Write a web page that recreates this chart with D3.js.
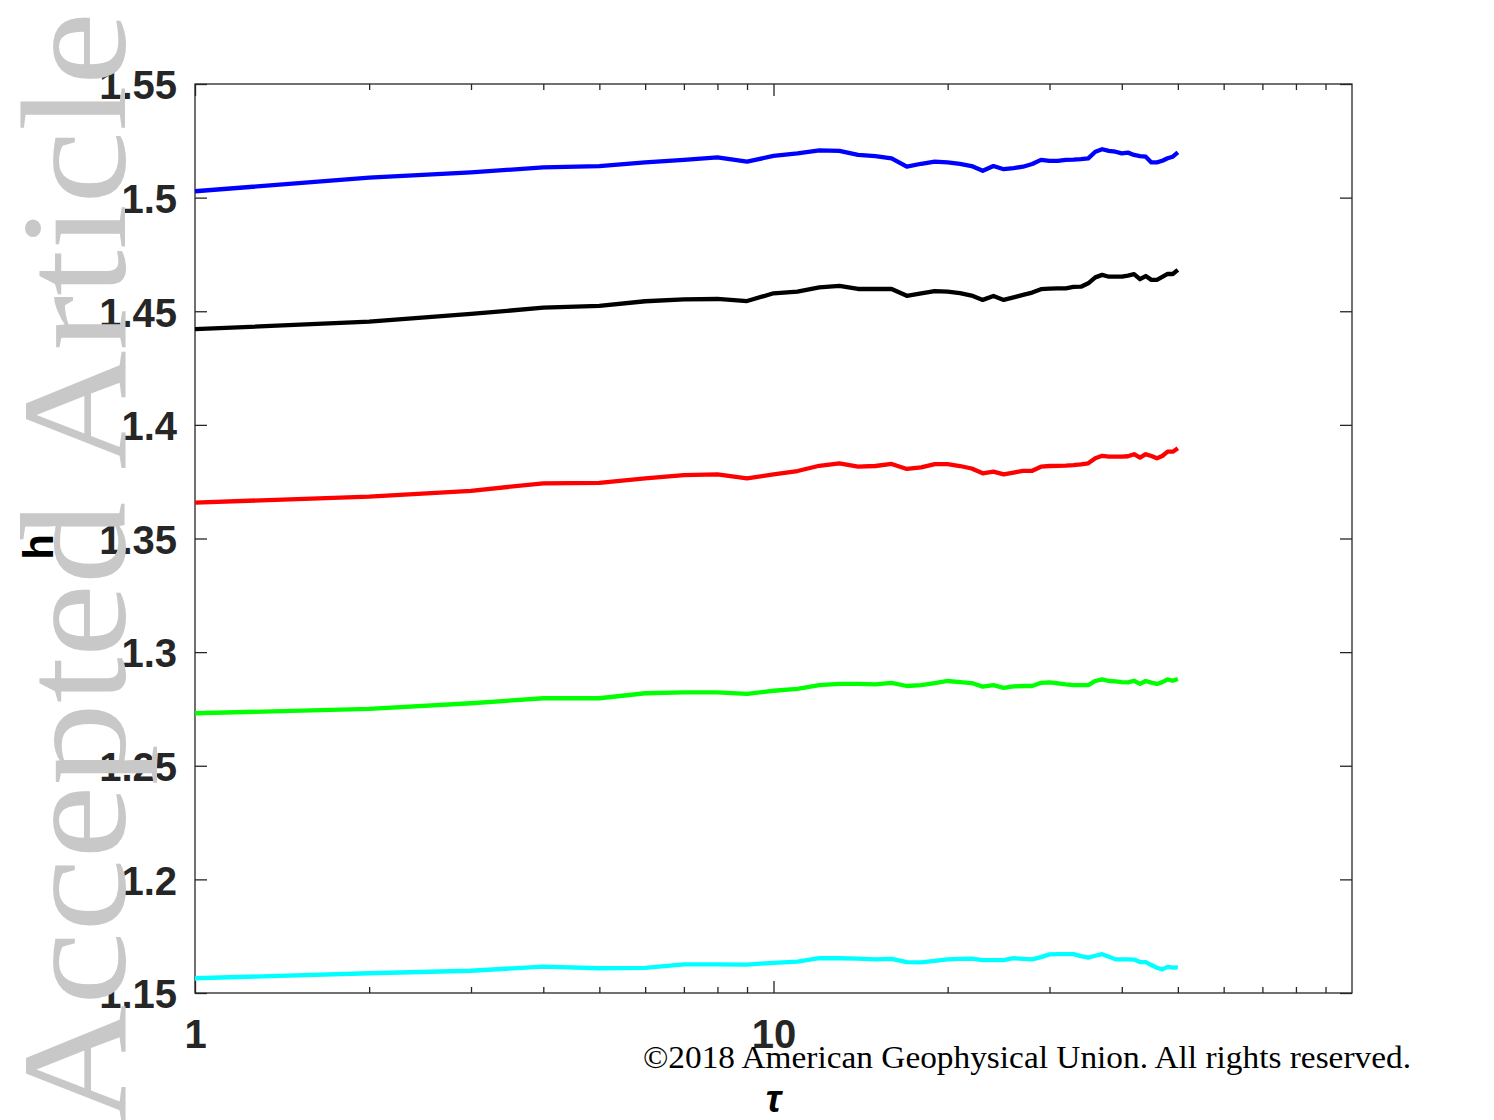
<!DOCTYPE html>
<html>
<head>
<meta charset="utf-8">
<script src="https://cdn.jsdelivr.net/npm/d3@7"></script>
<style>
  html, body { margin: 0; padding: 0; background: #ffffff; }
  svg { display: block; }
</style>
</head>
<body>
<svg id="chart" width="1494" height="1120"></svg>
<script>
// Time scale tau (sample points along the log axis)
const tau = [1,2,3,4,5,6,7,8,9,10,11,12,13,14,15,16,17,18,19,20,
             21,22,23,24,25,26,27,28,29,30,31,32,33,34,35,36,37,38,39,40,
             41,42,43,44,45,46,47,48,49,50];

// h(tau) for each curve
const hBlue = [1.5028,1.5088,1.5111,1.5133,1.5139,1.5155,1.5166,1.5177,1.5158,1.5184,
               1.5195,1.5208,1.5206,1.5188,1.5183,1.5173,1.5136,1.5149,1.5158,1.5155,
               1.5148,1.5139,1.5118,1.5139,1.5125,1.5130,1.5136,1.5148,1.5166,1.5162,
               1.5162,1.5166,1.5167,1.5169,1.5173,1.5202,1.5213,1.5206,1.5202,1.5195,
               1.5198,1.5188,1.5183,1.5180,1.5155,1.5155,1.5162,1.5173,1.5180,1.5199];
const hBlack = [1.4421,1.4454,1.4488,1.4516,1.4524,1.4544,1.4552,1.4554,1.4545,1.4579,
                1.4586,1.4605,1.4612,1.4598,1.4598,1.4598,1.4568,1.4579,1.4589,1.4586,
                1.4580,1.4569,1.4550,1.4567,1.4550,1.4561,1.4572,1.4582,1.4597,1.4600,
                1.4601,1.4601,1.4607,1.4608,1.4623,1.4649,1.4660,1.4652,1.4652,1.4652,
                1.4657,1.4663,1.4641,1.4655,1.4638,1.4638,1.4651,1.4664,1.4664,1.4682];
const hRed = [1.3658,1.3684,1.3710,1.3743,1.3745,1.3765,1.3779,1.3782,1.3765,1.3782,
              1.3797,1.3820,1.3831,1.3816,1.3819,1.3828,1.3806,1.3813,1.3827,1.3827,
              1.3819,1.3808,1.3787,1.3794,1.3782,1.3790,1.3798,1.3798,1.3816,1.3819,
              1.3820,1.3821,1.3823,1.3826,1.3831,1.3853,1.3864,1.3860,1.3860,1.3860,
              1.3862,1.3871,1.3856,1.3871,1.3863,1.3853,1.3863,1.3882,1.3882,1.3897];
const hGreen = [1.2731,1.2750,1.2775,1.2797,1.2797,1.2819,1.2823,1.2823,1.2816,1.2830,
                1.2838,1.2855,1.2860,1.2860,1.2858,1.2865,1.2851,1.2855,1.2864,1.2873,
                1.2868,1.2864,1.2848,1.2855,1.2843,1.2849,1.2851,1.2851,1.2865,1.2867,
                1.2863,1.2858,1.2855,1.2855,1.2855,1.2873,1.2880,1.2873,1.2871,1.2868,
                1.2867,1.2874,1.2860,1.2873,1.2866,1.2860,1.2868,1.2880,1.2874,1.2882];
const hCyan = [1.1565,1.1587,1.1598,1.1616,1.1609,1.1611,1.1626,1.1626,1.1625,1.1633,
               1.1638,1.1653,1.1653,1.1651,1.1648,1.1650,1.1636,1.1635,1.1641,1.1648,
               1.1650,1.1651,1.1645,1.1645,1.1645,1.1653,1.1650,1.1648,1.1658,1.1670,
               1.1671,1.1671,1.1671,1.1662,1.1656,1.1664,1.1671,1.1660,1.1648,1.1648,
               1.1648,1.1647,1.1636,1.1636,1.1623,1.1611,1.1604,1.1615,1.1612,1.1613];

const seriesValues = [hBlue, hBlack, hRed, hGreen, hCyan];
const seriesColors = ["#0000ff", "#000000", "#ff0000", "#00ff00", "#00ffff"];

// Tick values and labels
const xMajorTicks = [1, 10];
const xMajorLabels = ["1", "10"];
const xMinorTicks = [2,3,4,5,6,7,8,9,20,30,40,50,60,70,80,90];
const yTicks = [1.15,1.2,1.25,1.3,1.35,1.4,1.45,1.5,1.55];
const yTickLabels = ["1.15","1.2","1.25","1.3","1.35","1.4","1.45","1.5","1.55"];

const svg = d3.select("#chart");
const W = 1494, H = 1120;
const plot = { left: 195, right: 1352, top: 84, bottom: 993 };

svg.append("rect").attr("width", W).attr("height", H).attr("fill", "#ffffff");

const x = d3.scaleLog().domain([1, 100]).range([plot.left, plot.right]);
const y = d3.scaleLinear().domain([1.15, 1.55]).range([plot.bottom, plot.top]);

const axisColor = "#262626";
const labelFont = "'Liberation Sans', Arial, Helvetica, sans-serif";

function styleAxis(g) {
  g.select(".domain").remove();
  g.selectAll(".tick line").attr("stroke", axisColor).attr("stroke-width", 1.3);
  g.selectAll(".tick text")
    .attr("fill", axisColor)
    .style("font-family", labelFont)
    .style("font-size", "40px")
    .style("font-weight", "bold");
}

// Bottom axis: major ticks with labels, then minor ticks
svg.append("g")
  .attr("transform", `translate(0,${plot.bottom})`)
  .call(d3.axisBottom(x).tickValues(xMajorTicks)
        .tickFormat((d, i) => xMajorLabels[i]).tickSize(-12).tickPadding(27))
  .call(styleAxis);
svg.append("g")
  .attr("transform", `translate(0,${plot.bottom})`)
  .call(d3.axisBottom(x).tickValues(xMinorTicks).tickFormat("").tickSize(-6))
  .call(styleAxis);

// Top axis (ticks only)
svg.append("g")
  .attr("transform", `translate(0,${plot.top})`)
  .call(d3.axisTop(x).tickValues(xMajorTicks).tickFormat("").tickSize(-12))
  .call(styleAxis);
svg.append("g")
  .attr("transform", `translate(0,${plot.top})`)
  .call(d3.axisTop(x).tickValues(xMinorTicks).tickFormat("").tickSize(-6))
  .call(styleAxis);

// Left axis with labels
svg.append("g")
  .attr("transform", `translate(${plot.left},0)`)
  .call(d3.axisLeft(y).tickValues(yTicks)
        .tickFormat((d, i) => yTickLabels[i]).tickSize(-12).tickPadding(18))
  .call(styleAxis)
  .call(g => g.selectAll(".tick text").attr("dy", "0.37em"));

// Right axis (ticks only)
svg.append("g")
  .attr("transform", `translate(${plot.right},0)`)
  .call(d3.axisRight(y).tickValues(yTicks).tickFormat("").tickSize(-12))
  .call(styleAxis);

// Plot box
svg.append("rect")
  .attr("x", plot.left).attr("y", plot.top)
  .attr("width", plot.right - plot.left).attr("height", plot.bottom - plot.top)
  .attr("fill", "none").attr("stroke", axisColor).attr("stroke-width", 1.3);

// Curves
const line = d3.line()
  .x((d, i) => x(tau[i]))
  .y(d => y(d));

svg.append("g").selectAll("path")
  .data(seriesValues)
  .join("path")
  .attr("d", d => line(d))
  .attr("fill", "none")
  .attr("stroke", (d, i) => seriesColors[i])
  .attr("stroke-width", 4.3)
  .attr("stroke-linejoin", "round")
  .attr("stroke-linecap", "butt");

// Axis labels
svg.append("text")
  .attr("x", (plot.left + plot.right) / 2)
  .attr("y", 1112)
  .attr("text-anchor", "middle")
  .style("font-family", labelFont)
  .style("font-size", "38px")
  .style("font-weight", "bold")
  .style("font-style", "italic")
  .attr("fill", "#000000")
  .text("τ");

svg.append("text")
  .attr("transform", `translate(53,547) rotate(-90)`)
  .attr("text-anchor", "middle")
  .style("font-family", labelFont)
  .style("font-size", "42px")
  .style("font-weight", "bold")
  .attr("fill", "#000000")
  .text("h");

// Vertical watermark
svg.append("text")
  .attr("transform", `translate(125,1124) rotate(-90)`)
  .attr("text-anchor", "start")
  .attr("textLength", 1112)
  .attr("lengthAdjust", "spacingAndGlyphs")
  .style("font-family", "'Liberation Serif', 'Times New Roman', serif")
  .style("font-size", "150px")
  .attr("fill", "#c8c8c8")
  .text("Accepted Article");

// Copyright line
svg.append("text")
  .attr("x", 643)
  .attr("y", 1068)
  .attr("textLength", 768)
  .attr("lengthAdjust", "spacingAndGlyphs")
  .style("font-family", "'Liberation Serif', 'Times New Roman', serif")
  .style("font-size", "31px")
  .attr("fill", "#000000")
  .text("©2018 American Geophysical Union. All rights reserved.");
</script>
</body>
</html>
